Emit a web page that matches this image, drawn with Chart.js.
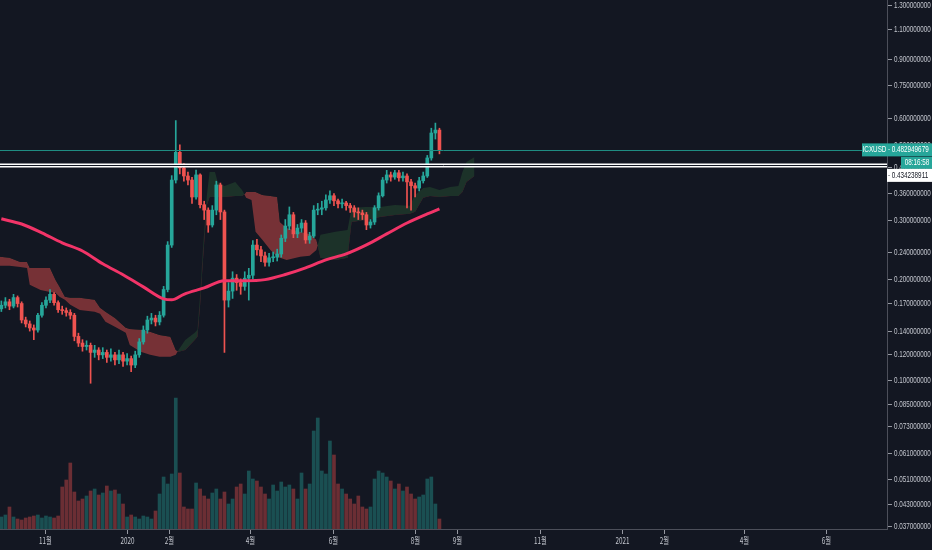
<!DOCTYPE html>
<html>
<head>
<meta charset="utf-8">
<title>ICXUSD</title>
<script src="https://cdn.jsdelivr.net/npm/chart.js@4.4.1/dist/chart.umd.min.js"></script>
<style>
  html, body { margin: 0; padding: 0; background: #131722; overflow: hidden; }
  canvas { display: block; }
</style>
</head>
<body>
<canvas id="chart" width="932" height="550"></canvas>
<script>
// day 0 = 2020-01-01, one candle every 3 days
const firstDay = -93;
const candleStep = 3;
const firstOpen = 0.163;

const closes = [
  0.167, 0.171, 0.166, 0.176, 0.169, 0.151, 0.147, 0.143, 0.141, 0.156,
  0.167, 0.173, 0.180, 0.170, 0.162, 0.161, 0.159, 0.156, 0.135, 0.129,
  0.126, 0.127, 0.121, 0.123, 0.119, 0.121, 0.117, 0.119, 0.115, 0.119,
  0.114, 0.116, 0.111, 0.119, 0.130, 0.141, 0.151, 0.153, 0.149, 0.156,
  0.186, 0.252, 0.393, 0.475, 0.427, 0.404, 0.393, 0.350, 0.407, 0.332,
  0.320, 0.289, 0.320, 0.380, 0.316, 0.173, 0.184, 0.201, 0.195, 0.190,
  0.201, 0.205, 0.252, 0.244, 0.234, 0.224, 0.231, 0.232, 0.237, 0.264,
  0.287, 0.310, 0.272, 0.283, 0.293, 0.261, 0.268, 0.320, 0.322, 0.325,
  0.343, 0.353, 0.341, 0.334, 0.336, 0.330, 0.325, 0.316, 0.314, 0.310,
  0.289, 0.295, 0.325, 0.353, 0.393, 0.407, 0.401, 0.413, 0.399, 0.404,
  0.388, 0.378, 0.372, 0.391, 0.404, 0.457, 0.542, 0.553, 0.483
];
const highs = [
  0.172, 0.176, 0.174, 0.180, 0.178, 0.171, 0.154, 0.150, 0.146, 0.158,
  0.170, 0.177, 0.186, 0.182, 0.172, 0.166, 0.164, 0.162, 0.158, 0.138,
  0.132, 0.131, 0.129, 0.127, 0.125, 0.125, 0.123, 0.124, 0.121, 0.123,
  0.121, 0.120, 0.118, 0.122, 0.133, 0.145, 0.155, 0.158, 0.156, 0.160,
  0.190, 0.258, 0.405, 0.590, 0.500, 0.440, 0.415, 0.400, 0.421, 0.410,
  0.340, 0.325, 0.330, 0.390, 0.385, 0.320, 0.195, 0.210, 0.206, 0.200,
  0.210, 0.215, 0.260, 0.262, 0.250, 0.240, 0.238, 0.240, 0.245, 0.270,
  0.300, 0.327, 0.315, 0.290, 0.300, 0.298, 0.275, 0.330, 0.335, 0.340,
  0.355, 0.365, 0.358, 0.345, 0.345, 0.340, 0.335, 0.330, 0.325, 0.320,
  0.315, 0.300, 0.330, 0.360, 0.400, 0.420, 0.415, 0.420, 0.420, 0.415,
  0.410, 0.395, 0.385, 0.400, 0.415, 0.465, 0.560, 0.580, 0.560
];
const lows = [
  0.160, 0.164, 0.162, 0.164, 0.165, 0.148, 0.144, 0.140, 0.132, 0.139,
  0.154, 0.164, 0.170, 0.167, 0.159, 0.157, 0.155, 0.152, 0.131, 0.126,
  0.122, 0.123, 0.098, 0.117, 0.115, 0.116, 0.113, 0.114, 0.111, 0.112,
  0.110, 0.111, 0.106, 0.109, 0.117, 0.128, 0.138, 0.147, 0.145, 0.146,
  0.154, 0.183, 0.248, 0.385, 0.410, 0.390, 0.380, 0.335, 0.345, 0.325,
  0.300, 0.275, 0.285, 0.310, 0.300, 0.121, 0.165, 0.175, 0.185, 0.180,
  0.185, 0.173, 0.200, 0.235, 0.225, 0.218, 0.218, 0.225, 0.226, 0.232,
  0.258, 0.280, 0.265, 0.265, 0.275, 0.255, 0.255, 0.265, 0.310, 0.310,
  0.320, 0.335, 0.330, 0.325, 0.325, 0.320, 0.315, 0.305, 0.300, 0.300,
  0.280, 0.283, 0.290, 0.320, 0.350, 0.385, 0.390, 0.395, 0.390, 0.390,
  0.325, 0.320, 0.350, 0.365, 0.385, 0.400, 0.450, 0.520, 0.470
];
// volume, millions
const volumes = [
  6, 7, 11, 6, 5, 4.5, 5.5, 6, 6.5, 7,
  5.5, 6.5, 6, 5.5, 6.5, 21, 24.5, 33, 18.5, 14,
  15, 16.5, 19, 20, 17, 18, 21.5, 19, 19.5, 17.5,
  12.5, 6, 7, 6, 5, 6.5, 6, 5, 9, 17.5,
  26, 22.5, 27.5, 65.5, 28, 11, 10, 10, 23, 20,
  16.5, 15, 18, 20, 15, 18.5, 12.5, 15, 21, 22.5,
  17.5, 29, 25, 24, 21, 17.5, 15, 22, 19, 23.5,
  21, 22, 20, 15, 28, 20, 22.5, 49, 55.5, 29,
  27.5, 44, 37, 22.5, 20, 17.5, 15, 12.5, 16.5, 11,
  10, 11, 25, 29, 28, 26, 24, 20, 22.5, 19,
  21, 17.5, 15, 16, 17, 25, 26, 12.5, 5
];

// moving average
const maDays = [-93, -78, -63, -48, -33, -18, -3, 12, 27, 33, 42, 57, 72, 87, 102, 117, 132, 147, 162, 177, 192, 207, 222, 231];
const maValues = [0.3015, 0.291, 0.274, 0.256, 0.242, 0.2217, 0.2057, 0.1894, 0.1745, 0.1733, 0.180, 0.188,
  0.1974, 0.1974, 0.199, 0.206, 0.2156, 0.2277, 0.2373, 0.2523, 0.272, 0.293, 0.3118, 0.3227];

// ichimoku cloud (leading spans A / B)
const cloudDays = [-94, -87, -79, -74, -72, -64, -57, -53, -50, -46, -42, -35, -24, -20, -16, -9, -1, 2, 10, 17,
  24, 32, 36, 38, 43, 50, 52, 54, 56, 59, 61, 65, 67, 72, 80, 85, 87, 88, 92, 95, 100, 106, 111, 113, 118, 128,
  135, 140, 143, 154, 163, 166, 176, 187, 198, 209, 213, 219, 224, 231, 239, 245, 248, 251, 257];
const spanA = [0.2186, 0.2186, 0.2171, 0.2156, 0.1920, 0.1855, 0.1830, 0.1818, 0.1769, 0.1733, 0.1675, 0.1618,
  0.1597, 0.1575, 0.1491, 0.1441, 0.1383, 0.1274, 0.1215, 0.1190, 0.1174, 0.1174, 0.1190,
  0.1230, 0.1318, 0.1383, 0.1412, 0.1793, 0.2438, 0.3550, 0.4154, 0.4154, 0.3880, 0.3775, 0.3880, 0.3674,
  0.3550, 0.3479, 0.3431, 0.2758, 0.2611, 0.2438, 0.2325, 0.2309, 0.2277, 0.2325, 0.2341, 0.2438,
  0.2702, 0.2758, 0.2795, 0.3249, 0.3271, 0.3271, 0.3316, 0.3294, 0.3550, 0.3724, 0.3750, 0.3674, 0.3750,
  0.3775, 0.4154, 0.4448, 0.4602];
const spanB = [0.2325, 0.2309, 0.2246, 0.2246, 0.2156, 0.2156, 0.2156, 0.1987, 0.1894, 0.1769, 0.1757, 0.1757,
  0.1733, 0.1641, 0.1597, 0.1532, 0.1431, 0.1421, 0.1412, 0.1393, 0.1364, 0.1346, 0.1231,
  0.1215, 0.1231, 0.1318, 0.1346, 0.1675, 0.2246, 0.3316, 0.3502, 0.3502, 0.3502, 0.3502, 0.3526, 0.3526,
  0.3575, 0.3624, 0.3624, 0.3624, 0.3550, 0.3526, 0.3502, 0.2952, 0.2834, 0.2758, 0.2720, 0.2611,
  0.2309, 0.2277, 0.2309, 0.2952, 0.2993, 0.3055, 0.3097, 0.3119, 0.3162, 0.3479, 0.3526, 0.3502, 0.3526,
  0.3526, 0.3624, 0.3880, 0.4042];

const yTicks = [0.037, 0.043, 0.051, 0.061, 0.073, 0.085, 0.1, 0.12, 0.14, 0.17, 0.2, 0.24, 0.3, 0.36, 0.43,
  0.5, 0.6, 0.75, 0.9, 1.1, 1.3];
const xTickDays = [-61, 0, 31, 91, 152, 213, 244, 305, 366, 397, 456, 517];
const xTickLabels = ['11월', '2020', '2월', '4월', '6월', '8월', '9월', '11월', '2021', '2월', '4월', '6월'];

const symbol = 'ICXUSD';
const lastPrice = 0.482949679;
const levelPrice = 0.434238911;
const countdown = '08:16:58';

const UP = '#26a69a', DOWN = '#ef5350';
const FONT = '"Liberation Sans", sans-serif';
const FONT_KR = '"Noto Sans CJK KR", sans-serif';

const opens = closes.map((c, i) => i === 0 ? firstOpen : closes[i - 1]);
const candleDays = closes.map((c, i) => firstDay + i * candleStep);
const isUp = closes.map((c, i) => c >= opens[i]);

// narrow text like the TradingView axis font
function narrowText(ctx, str, x, y, align, color, family) {
  ctx.save();
  ctx.translate(x, y);
  ctx.scale(0.7, 1);
  ctx.font = '9px ' + (family || FONT);
  ctx.fillStyle = color;
  ctx.textAlign = align;
  ctx.textBaseline = 'middle';
  ctx.fillText(str, 0, 0);
  ctx.restore();
}

const overlay = {
  id: 'overlay',
  beforeDraw(chart) {
    const ctx = chart.ctx;
    ctx.save();
    ctx.fillStyle = '#131722';
    ctx.fillRect(0, 0, chart.width, chart.height);
    ctx.restore();
  },
  afterDatasetsDraw(chart) {
    const {ctx, chartArea: a, scales: {y}} = chart;
    ctx.save();
    let py = Math.round(y.getPixelForValue(lastPrice)) + 0.5;
    ctx.strokeStyle = '#1f8c82';
    ctx.lineWidth = 1;
    ctx.beginPath(); ctx.moveTo(a.left, py); ctx.lineTo(a.right, py); ctx.stroke();
    py = Math.round(y.getPixelForValue(levelPrice)) + 0.5;
    ctx.strokeStyle = '#ffffff';
    ctx.lineWidth = 4;
    ctx.beginPath(); ctx.moveTo(a.left, py); ctx.lineTo(a.right, py); ctx.stroke();
    ctx.strokeStyle = '#131722';
    ctx.lineWidth = 1;
    ctx.beginPath(); ctx.moveTo(a.left, py); ctx.lineTo(a.right, py); ctx.stroke();
    ctx.restore();
  },
  afterDraw(chart) {
    const {ctx, chartArea: a, scales: {x, y}} = chart;
    const label = '#c3c6ce';
    ctx.save();
    ctx.beginPath();
    ctx.rect(a.right, 0, chart.width - a.right, a.bottom);
    ctx.clip();
    y.ticks.forEach(t => {
      const py = Math.round(y.getPixelForValue(t.value)) + 0.5;
      ctx.strokeStyle = '#9598a1';
      ctx.lineWidth = 1;
      ctx.beginPath(); ctx.moveTo(a.right + 1, py); ctx.lineTo(a.right + 5, py); ctx.stroke();
      narrowText(ctx, t.value.toFixed(9), a.right + 7, py, 'left', label);
    });
    ctx.restore();

    ctx.save();
    x.ticks.forEach((t, i) => {
      const px = Math.round(x.getPixelForValue(t.value)) + 0.5;
      ctx.strokeStyle = '#9598a1';
      ctx.lineWidth = 1;
      ctx.beginPath(); ctx.moveTo(px, a.bottom + 1); ctx.lineTo(px, a.bottom + 5); ctx.stroke();
      narrowText(ctx, xTickLabels[i], px, a.bottom + 12, 'center', label, FONT_KR);
    });

    // price boxes on the right axis
    const lp = y.getPixelForValue(lastPrice);
    ctx.fillStyle = UP;
    ctx.fillRect(a.right - 25, lp - 6.5, 25, 13);
    ctx.fillRect(a.right, lp - 6.5, chart.width - a.right, 13);
    narrowText(ctx, symbol, a.right - 12.5, lp, 'center', '#ffffff');
    narrowText(ctx, '- ' + lastPrice.toFixed(9), a.right + 1, lp, 'left', '#ffffff');
    ctx.fillStyle = UP;
    ctx.fillRect(a.right + 14, lp + 7, chart.width - a.right - 14, 12);
    narrowText(ctx, countdown, a.right + 30, lp + 13, 'center', '#ffffff');
    ctx.fillStyle = '#ffffff';
    ctx.fillRect(a.right, lp + 19, chart.width - a.right, 13);
    narrowText(ctx, '- ' + levelPrice.toFixed(9), a.right + 1, lp + 25.5, 'left', '#131722');
    ctx.restore();
  }
};

const ctx = document.getElementById('chart').getContext('2d');
const chart = new Chart(ctx, {
  type: 'bar',
  data: {
    datasets: [
      {
        type: 'line',
        label: 'MA',
        data: maDays.map((d, i) => ({x: d, y: maValues[i]})),
        borderColor: '#f23468',
        borderWidth: 3,
        pointRadius: 0,
        cubicInterpolationMode: 'monotone',
        order: 0
      },
      {
        label: 'body',
        data: candleDays.map((d, i) => ({x: d, y: [opens[i], closes[i]]})),
        backgroundColor: isUp.map(u => u ? UP : DOWN),
        barThickness: 3,
        minBarLength: 1,
        grouped: false,
        order: 1
      },
      {
        label: 'wick',
        data: candleDays.map((d, i) => ({x: d, y: [lows[i], highs[i]]})),
        backgroundColor: isUp.map(u => u ? UP : DOWN),
        barThickness: 1,
        grouped: false,
        order: 2
      },
      {
        label: 'volume',
        yAxisID: 'vol',
        data: candleDays.map((d, i) => ({x: d, y: volumes[i]})),
        backgroundColor: isUp.map(u => u ? 'rgba(38,166,154,0.4)' : 'rgba(239,83,80,0.4)'),
        barThickness: 3,
        grouped: false,
        order: 3
      },
      {
        type: 'line',
        label: 'span A',
        data: cloudDays.map((d, i) => ({x: d, y: spanA[i]})),
        borderWidth: 0,
        borderColor: 'transparent',
        pointRadius: 0,
        fill: {target: '+1', above: 'rgba(67,160,71,0.2)', below: 'rgba(239,83,80,0.45)'},
        order: 5
      },
      {
        type: 'line',
        label: 'span B',
        data: cloudDays.map((d, i) => ({x: d, y: spanB[i]})),
        borderWidth: 0,
        borderColor: 'transparent',
        pointRadius: 0,
        order: 6
      }
    ]
  },
  options: {
    responsive: false,
    animation: false,
    layout: {padding: 0},
    plugins: {legend: {display: false}, tooltip: {enabled: false}},
    scales: {
      x: {
        type: 'linear',
        min: -94,
        max: 562,
        offset: false,
        bounds: 'data',
        grid: {display: false},
        border: {display: true, color: '#4c4f5a'},
        ticks: {display: false, autoSkip: false},
        afterBuildTicks: s => { s.ticks = xTickDays.map(v => ({value: v})); },
        afterFit: s => { s.height = 21; }
      },
      y: {
        type: 'logarithmic',
        position: 'right',
        min: 0.0362,
        max: 1.345,
        bounds: 'data',
        grid: {display: false},
        border: {display: true, color: '#4c4f5a'},
        ticks: {display: false, autoSkip: false},
        afterBuildTicks: s => { s.ticks = yTicks.map(v => ({value: v})); },
        afterFit: s => { s.width = 45; }
      },
      vol: {
        type: 'linear',
        display: false,
        min: 0,
        max: 264.5
      }
    }
  },
  plugins: [overlay]
});
</script>
</body>
</html>
